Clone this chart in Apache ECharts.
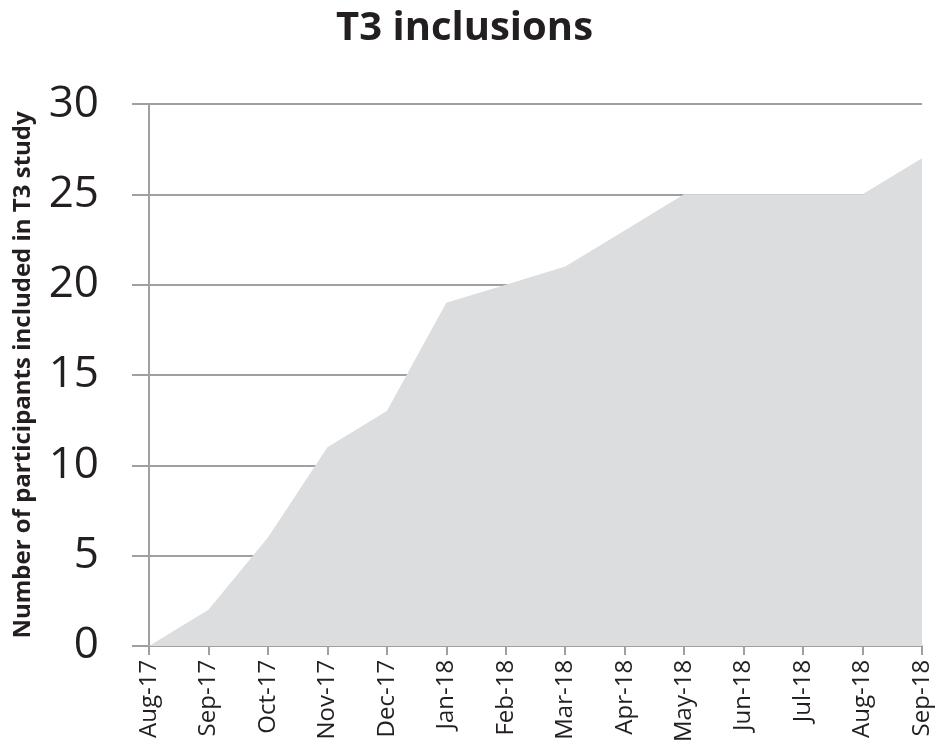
<!DOCTYPE html>
<html>
<head>
<meta charset="utf-8">
<script src="https://cdn.jsdelivr.net/npm/echarts@6/dist/echarts.min.js"></script>
<style>html,body{margin:0;padding:0;background:#fff}#c{width:937px;height:745px}</style>
</head>
<body>
<div id="c"></div>
<script>
var months = ['Aug-17','Sep-17','Oct-17','Nov-17','Dec-17','Jan-18','Feb-18','Mar-18','Apr-18','May-18','Jun-18','Jul-18','Aug-18','Sep-18'];
var inclusions = [0, 2, 6, 11, 13, 19, 20, 21, 23, 25, 25, 25, 25, 27];
var yTicks = [0, 5, 10, 15, 20, 25, 30];

var chart = echarts.init(document.getElementById('c'));
chart.setOption({
  animation: false,
  title: {
    text: 'T3 inclusions',
    left: 331,
    top: 4,
    textStyle: { fontFamily: 'Open Sans', fontWeight: 'bold', fontSize: 40, color: '#231f20' }
  },
  grid: { left: 149, right: 15, top: 104, bottom: 99 },
  xAxis: {
    type: 'category',
    data: months,
    boundaryGap: false,
    axisLine: { lineStyle: { color: '#a0a0a0', width: 2 } },
    axisTick: { show: true, length: 9, alignWithLabel: true, lineStyle: { color: '#a0a0a0', width: 2 } },
    axisLabel: { rotate: 90, fontFamily: 'Open Sans', fontSize: 24, color: '#231f20', margin: 14, interval: 0 },
    splitLine: { show: false }
  },
  yAxis: {
    type: 'value',
    min: yTicks[0],
    max: yTicks[yTicks.length - 1],
    interval: 5,
    name: 'Number of participants included in T3 study',
    nameLocation: 'middle',
    nameGap: 114,
    nameTextStyle: { fontFamily: 'Open Sans', fontWeight: 'bold', fontSize: 24, color: '#231f20' },
    axisLine: { show: true, lineStyle: { color: '#a0a0a0', width: 2 } },
    axisTick: { show: true, length: 17, lineStyle: { color: '#a0a0a0', width: 2 } },
    axisLabel: { fontFamily: 'Open Sans', fontSize: 44, color: '#231f20', margin: 50 },
    splitLine: { show: true, lineStyle: { color: '#a0a0a0', width: 2 } }
  },
  series: [{
    type: 'line',
    data: inclusions,
    symbol: 'none',
    lineStyle: { width: 0 },
    areaStyle: { color: '#dcdddf', opacity: 1 },
    z: 3
  }]
});
</script>
</body>
</html>
